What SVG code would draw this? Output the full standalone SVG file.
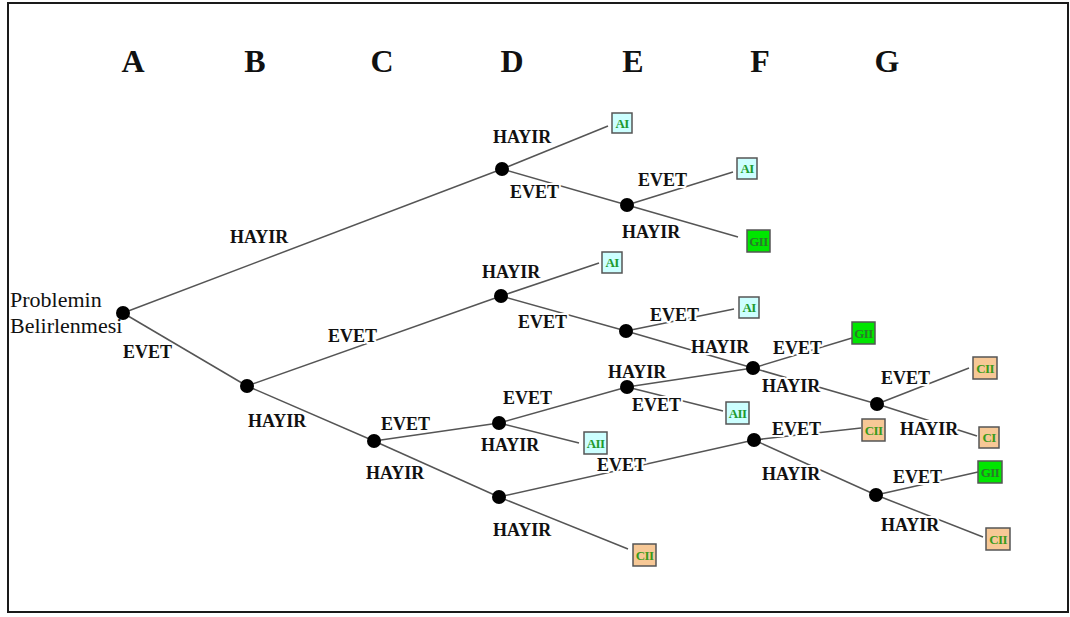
<svg xmlns="http://www.w3.org/2000/svg" width="1070" height="617" viewBox="0 0 1070 617">
  <style>
    .frame { fill: #ffffff; stroke: #1a1a1a; stroke-width: 2; }
    .col { font-family: "Liberation Serif", "Times New Roman", serif; font-weight: bold; font-size: 32px; fill: #111; text-anchor: middle; }
    .root { font-family: "Liberation Serif", "Times New Roman", serif; font-size: 22px; fill: #111; }
    .edge { stroke: #555; stroke-width: 1.5; fill: none; }
    .dot { fill: #000; }
    .lbl { font-family: "Liberation Serif", "Times New Roman", serif; font-weight: bold; font-size: 18px; fill: #111; paint-order: stroke; stroke: #fff; stroke-width: 4px; stroke-linejoin: round; }
    .bare { stroke-width: 0; }
    .leaf rect { stroke: #555; stroke-width: 1.5; }
    .leaf text { font-family: "Liberation Serif", "Times New Roman", serif; font-weight: bold; font-size: 13px; text-anchor: middle; letter-spacing: -0.6px; }
    .a rect { fill: #ccffff; }
    .a text { fill: #1f9a2e; }
    .g rect { fill: #00e600; }
    .g text { fill: #2a7a2a; }
    .c rect { fill: #f7c896; }
    .c text { fill: #3a9a1a; }
  </style>

  <rect class="frame" x="8" y="3" width="1060" height="609"/>

  <!-- stage headings -->
  <g id="headings">
    <text class="col" x="133" y="72">A</text>
    <text class="col" x="255" y="72">B</text>
    <text class="col" x="382" y="72">C</text>
    <text class="col" x="512" y="72">D</text>
    <text class="col" x="633" y="72">E</text>
    <text class="col" x="760" y="72">F</text>
    <text class="col" x="887" y="72">G</text>
  </g>

  <!-- branches -->
  <g id="connectors">
    <line class="edge" x1="123" y1="313" x2="502" y2="169"/>
    <line class="edge" x1="123" y1="313" x2="247" y2="386"/>
    <line class="edge" x1="247" y1="386" x2="501" y2="296"/>
    <line class="edge" x1="247" y1="386" x2="374" y2="441"/>
    <line class="edge" x1="502" y1="169" x2="608" y2="126"/>
    <line class="edge" x1="502" y1="169" x2="627" y2="205"/>
    <line class="edge" x1="627" y1="205" x2="733" y2="172"/>
    <line class="edge" x1="627" y1="205" x2="738" y2="237"/>
    <line class="edge" x1="501" y1="296" x2="599" y2="263"/>
    <line class="edge" x1="501" y1="296" x2="626" y2="331"/>
    <line class="edge" x1="626" y1="331" x2="734" y2="309"/>
    <line class="edge" x1="626" y1="331" x2="753" y2="368"/>
    <line class="edge" x1="753" y1="368" x2="852" y2="338"/>
    <line class="edge" x1="753" y1="368" x2="877" y2="404"/>
    <line class="edge" x1="877" y1="404" x2="969" y2="368"/>
    <line class="edge" x1="877" y1="404" x2="977" y2="436"/>
    <line class="edge" x1="374" y1="441" x2="499" y2="423"/>
    <line class="edge" x1="374" y1="441" x2="499" y2="497"/>
    <line class="edge" x1="499" y1="423" x2="627" y2="387"/>
    <line class="edge" x1="499" y1="423" x2="579" y2="443"/>
    <line class="edge" x1="627" y1="387" x2="753" y2="368"/>
    <line class="edge" x1="627" y1="387" x2="723" y2="411"/>
    <line class="edge" x1="499" y1="497" x2="754" y2="440"/>
    <line class="edge" x1="499" y1="497" x2="628" y2="549"/>
    <line class="edge" x1="754" y1="440" x2="861" y2="428"/>
    <line class="edge" x1="754" y1="440" x2="876" y2="495"/>
    <line class="edge" x1="876" y1="495" x2="978" y2="472"/>
    <line class="edge" x1="876" y1="495" x2="983" y2="537"/>
  </g>

  <!-- branch labels -->
  <g id="branch-labels">
    <text class="lbl" x="230" y="243">HAYIR</text>
    <text class="lbl bare" x="123" y="358">EVET</text>
    <text class="lbl" x="328" y="342">EVET</text>
    <text class="lbl" x="248" y="427">HAYIR</text>
    <text class="lbl" x="493" y="143">HAYIR</text>
    <text class="lbl" x="510" y="198">EVET</text>
    <text class="lbl" x="638" y="186">EVET</text>
    <text class="lbl" x="622" y="238">HAYIR</text>
    <text class="lbl" x="482" y="278">HAYIR</text>
    <text class="lbl" x="518" y="328">EVET</text>
    <text class="lbl" x="650" y="321">EVET</text>
    <text class="lbl" x="691" y="353">HAYIR</text>
    <text class="lbl" x="773" y="354">EVET</text>
    <text class="lbl" x="762" y="392">HAYIR</text>
    <text class="lbl" x="881" y="384">EVET</text>
    <text class="lbl" x="900" y="435">HAYIR</text>
    <text class="lbl" x="608" y="378">HAYIR</text>
    <text class="lbl" x="632" y="411">EVET</text>
    <text class="lbl" x="381" y="430">EVET</text>
    <text class="lbl" x="366" y="479">HAYIR</text>
    <text class="lbl" x="481" y="451">HAYIR</text>
    <text class="lbl" x="503" y="404">EVET</text>
    <text class="lbl" x="597" y="471">EVET</text>
    <text class="lbl" x="493" y="536">HAYIR</text>
    <text class="lbl" x="772" y="435">EVET</text>
    <text class="lbl" x="762" y="480">HAYIR</text>
    <text class="lbl" x="893" y="483">EVET</text>
    <text class="lbl" x="881" y="531">HAYIR</text>
  </g>

  <!-- decision points -->
  <g id="n-root">
    <text class="root" x="10" y="307">Problemin</text>
    <text class="root" x="10" y="333">Belirlenmesi</text>
    <circle class="dot" cx="123" cy="313" r="7"/>
  </g>
  <g id="n-b"><circle class="dot" cx="247" cy="386" r="7"/></g>
  <g id="n-d1"><circle class="dot" cx="502" cy="169" r="7"/></g>
  <g id="n-e1"><circle class="dot" cx="627" cy="205" r="7"/></g>
  <g id="n-d2"><circle class="dot" cx="501" cy="296" r="7"/></g>
  <g id="n-e2"><circle class="dot" cx="626" cy="331" r="7"/></g>
  <g id="n-f1"><circle class="dot" cx="753" cy="368" r="7"/></g>
  <g id="n-g1"><circle class="dot" cx="877" cy="404" r="7"/></g>
  <g id="n-c"><circle class="dot" cx="374" cy="441" r="7"/></g>
  <g id="n-d3"><circle class="dot" cx="499" cy="423" r="7"/></g>
  <g id="n-e3"><circle class="dot" cx="627" cy="387" r="7"/></g>
  <g id="n-d4"><circle class="dot" cx="499" cy="497" r="7"/></g>
  <g id="n-f2"><circle class="dot" cx="754" cy="440" r="7"/></g>
  <g id="n-g2"><circle class="dot" cx="876" cy="495" r="7"/></g>

  <!-- outcomes -->
  <g id="o-ai1" class="leaf a"><rect x="612" y="113" width="20" height="20"/><text x="622" y="127.5">AI</text></g>
  <g id="o-ai2" class="leaf a"><rect x="737" y="158" width="20" height="21"/><text x="747" y="173">AI</text></g>
  <g id="o-gii3" class="leaf g"><rect x="747" y="230" width="23" height="22"/><text x="758.5" y="245.5">GII</text></g>
  <g id="o-ai4" class="leaf a"><rect x="602" y="252" width="20" height="21"/><text x="612" y="267">AI</text></g>
  <g id="o-ai5" class="leaf a"><rect x="739" y="297" width="20" height="21"/><text x="749" y="312">AI</text></g>
  <g id="o-gii6" class="leaf g"><rect x="852" y="322" width="23" height="22"/><text x="863.5" y="337.5">GII</text></g>
  <g id="o-cii7" class="leaf c"><rect x="973" y="357" width="24" height="22"/><text x="985" y="372.5">CII</text></g>
  <g id="o-ci8" class="leaf c"><rect x="979" y="427" width="20" height="21"/><text x="989" y="442">CI</text></g>
  <g id="o-aii9" class="leaf a"><rect x="726" y="402" width="23" height="22"/><text x="737.5" y="417.5">AII</text></g>
  <g id="o-aii10" class="leaf a"><rect x="584" y="432" width="23" height="22"/><text x="595.5" y="447.5">AII</text></g>
  <g id="o-cii11" class="leaf c"><rect x="862" y="419" width="23" height="22"/><text x="873.5" y="434.5">CII</text></g>
  <g id="o-cii12" class="leaf c"><rect x="633" y="544" width="23" height="22"/><text x="644.5" y="559.5">CII</text></g>
  <g id="o-gii13" class="leaf g"><rect x="978" y="461" width="24" height="22"/><text x="990" y="476.5">GII</text></g>
  <g id="o-cii14" class="leaf c"><rect x="986" y="528" width="24" height="22"/><text x="998" y="543.5">CII</text></g>
</svg>
